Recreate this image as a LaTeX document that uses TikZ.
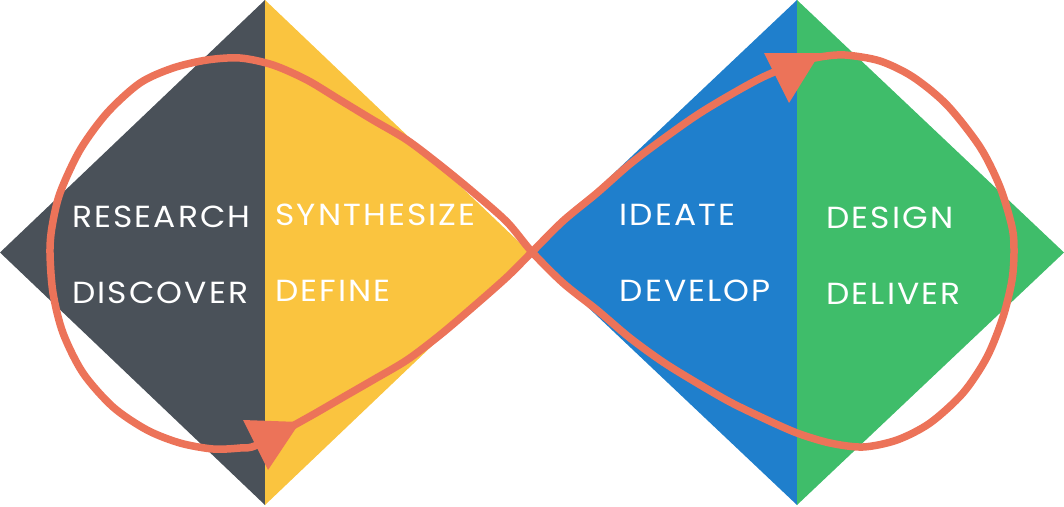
\documentclass[tikz,border=0pt]{standalone}
\usepackage{fontspec}
\newfontfamily\stagefont{Poppins}[FakeStretch=1.08, LetterSpace=7]
\definecolor{slate}{HTML}{4A5159}
\definecolor{sun}{HTML}{FAC43F}
\definecolor{sky}{HTML}{1F7FCC}
\definecolor{leaf}{HTML}{3FBD6A}
\definecolor{coral}{HTML}{EC7359}
\tikzset{
  stage/.style={text=white, font=\stagefont\fontsize{30.5}{30.5}\selectfont, anchor=base west, inner sep=0pt},
  loopline/.style={draw=coral, line width=7.5pt, line join=round},
  tip/.style={fill=coral}
}
\begin{document}
\begin{tikzpicture}[x=1pt, y=-1pt]
\useasboundingbox (0,0) rectangle (1064,506);

% left diamond: discover / define
\coordinate (lw) at (0,252.5);
\coordinate (lt) at (265,0);
\coordinate (le) at (530,252.5);
\coordinate (lb) at (265,505);
\fill[slate] (lw) -- (lt) -- (lb) -- cycle;
\fill[sun] (lt) -- (le) -- (lb) -- cycle;

% right diamond: develop / deliver
\coordinate (rw) at (530,252.5);
\coordinate (rt) at (797,0);
\coordinate (re) at (1064,252.5);
\coordinate (rb) at (797,505);
\fill[sky] (rw) -- (rt) -- (rb) -- cycle;
\fill[leaf] (rt) -- (re) -- (rb) -- cycle;

% stage labels
\node[stage] (research)   at (72,227)    {RESEARCH};
\node[stage] (discover)   at (72,303.5)  {DISCOVER};
\node[stage] (synthesize) at (275,225.7) {SYNTHESIZE};
\node[stage] (define)     at (275,301.7) {DEFINE};
\node[stage] (ideate)     at (619.5,225.7) {IDEATE};
\node[stage] (develop)    at (619.5,301.7) {DEVELOP};
\node[stage] (design)     at (826,228.3) {DESIGN};
\node[stage] (deliver)    at (826,304.3) {DELIVER};

% figure-eight loop through both diamonds
\draw[loopline] plot[smooth cycle, tension=0.5] coordinates {
  (532,252) (563,221) (597,193) (630,164) (663,139) (697,115) (730,95)
  (763,77) (797,63) (820,57) (845,55) (880,61) (913,77) (947,105)
  (980,147) (1000,187) (1012,227) (1014,251) (1012,280) (1003,317)
  (987,357) (963,393) (930,423) (897,440) (863,447) (830,443) (797,433)
  (763,418) (730,402) (697,383) (663,362) (630,338) (597,310) (563,283)
  (532,252) (507,222) (473,192) (440,165) (407,140) (373,120) (340,100)
  (307,80) (273,65) (240,58) (207,60) (173,68) (140,83) (107,113)
  (80,150) (60,193) (52,227) (50,253) (53,293) (63,333) (83,373)
  (113,407) (147,430) (180,443) (213,449) (240,448) (257,445)
  (307,418) (340,399) (373,380) (407,360) (440,335) (473,307) (507,277)
};

% direction markers on the loop
\fill[tip] (243,420) -- (300,422) -- (268,470) -- cycle;
\fill[tip] (764,53) -- (820,53) -- (789,103) -- cycle;
\end{tikzpicture}
\end{document}
